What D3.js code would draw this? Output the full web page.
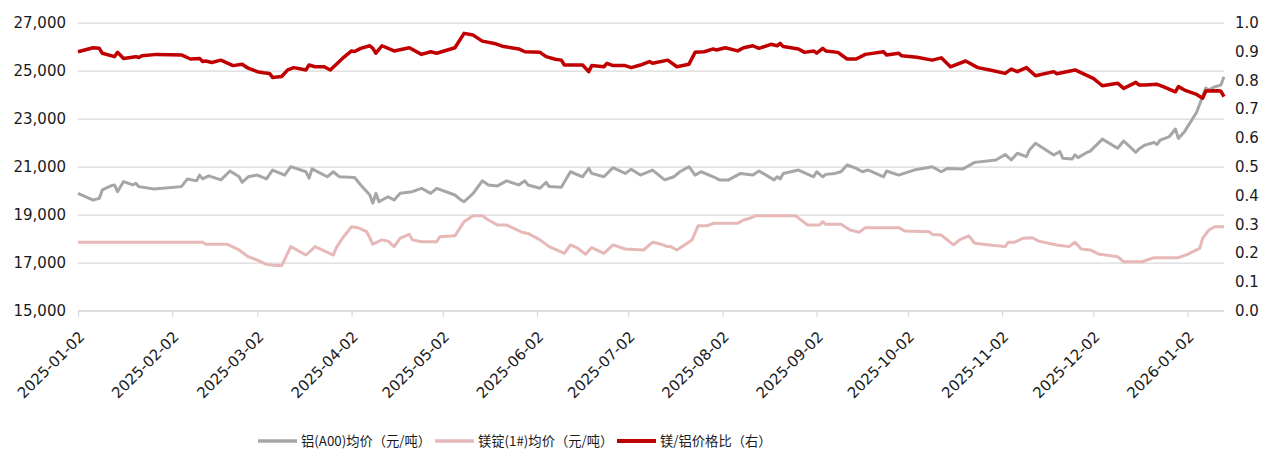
<!DOCTYPE html>
<html>
<head>
<meta charset="utf-8">
<script src="https://cdn.jsdelivr.net/npm/d3@7"></script>
<style>
    body { margin: 0; background: #ffffff; }
    svg { display: block; }
</style>
</head>
<body>
<div id="chart"></div>
<script>
// tick labels
var xTickLabels = ["2025-01-02", "2025-02-02", "2025-03-02", "2025-04-02", "2025-05-02", "2025-06-02",
    "2025-07-02", "2025-08-02", "2025-09-02", "2025-10-02", "2025-11-02", "2025-12-02", "2026-01-02"]
var leftTicks = [15000, 17000, 19000, 21000, 23000, 25000, 27000]
var rightTicks = [0, 0.1, 0.2, 0.3, 0.4, 0.5, 0.6, 0.7, 0.8, 0.9, 1.0]
var seriesNames = ["铝(A00)均价（元/吨）", "镁锭(1#)均价（元/吨）", "镁/铝价格比（右）"]

// 铝(A00)均价
var alDates = [
    "2025-01-02","2025-01-07","2025-01-09","2025-01-10","2025-01-13","2025-01-14","2025-01-15","2025-01-17","2025-01-20","2025-01-21","2025-01-22","2025-01-27",
    "2025-02-05","2025-02-07","2025-02-10","2025-02-11","2025-02-12","2025-02-14","2025-02-18","2025-02-21","2025-02-24","2025-02-25","2025-02-27",
    "2025-03-02","2025-03-05","2025-03-07","2025-03-11","2025-03-13","2025-03-18","2025-03-19","2025-03-20","2025-03-25","2025-03-27","2025-03-29",
    "2025-04-03","2025-04-05","2025-04-08","2025-04-09","2025-04-10","2025-04-11","2025-04-14","2025-04-16","2025-04-18","2025-04-22","2025-04-25","2025-04-28","2025-04-30",
    "2025-05-06","2025-05-08","2025-05-09","2025-05-12","2025-05-15","2025-05-17","2025-05-20","2025-05-23","2025-05-27","2025-05-29","2025-05-30",
    "2025-06-03","2025-06-05","2025-06-06","2025-06-10","2025-06-13","2025-06-17","2025-06-19","2025-06-20","2025-06-24","2025-06-27",
    "2025-07-01","2025-07-03","2025-07-06","2025-07-10","2025-07-14","2025-07-17","2025-07-19","2025-07-22","2025-07-24","2025-07-26","2025-07-30",
    "2025-08-01","2025-08-04","2025-08-08","2025-08-12","2025-08-14","2025-08-19","2025-08-20","2025-08-21","2025-08-22","2025-08-27",
    "2025-09-01","2025-09-02","2025-09-04","2025-09-05","2025-09-08","2025-09-10","2025-09-12","2025-09-15","2025-09-17","2025-09-19","2025-09-24","2025-09-25","2025-09-29",
    "2025-10-04","2025-10-10","2025-10-13","2025-10-15","2025-10-20","2025-10-24","2025-10-31",
    "2025-11-03","2025-11-05","2025-11-07","2025-11-10","2025-11-11","2025-11-13","2025-11-19","2025-11-21","2025-11-22","2025-11-25","2025-11-26","2025-11-27","2025-11-30",
    "2025-12-01","2025-12-05","2025-12-10","2025-12-12","2025-12-16","2025-12-17","2025-12-19","2025-12-22","2025-12-23","2025-12-24","2025-12-27","2025-12-29","2025-12-30",
    "2026-01-01","2026-01-05","2026-01-07","2026-01-08","2026-01-09","2026-01-11","2026-01-13","2026-01-14"]
var alPrice = [
    19890,19610,19680,20030,20210,20240,19960,20380,20240,20310,20170,20070,
    20170,20490,20410,20650,20490,20620,20450,20820,20580,20350,20580,
    20650,20490,20860,20650,21000,20790,20520,20910,20580,20790,20580,
    20550,20240,19820,19480,19890,19540,19750,19610,19890,19960,20100,19890,20100,
    19820,19610,19540,19890,20410,20240,20200,20410,20240,20410,20240,
    20100,20350,20170,20140,20790,20580,20930,20720,20580,20960,
    20720,20890,20650,20860,20450,20580,20790,21000,20650,20790,20580,
    20450,20450,20720,20650,20820,20450,20580,20490,20720,20860,
    20580,20790,20580,20680,20720,20790,21070,20930,20790,20860,20580,20820,20650,
    20860,21000,20790,20930,20900,21180,21280,
    21510,21280,21560,21420,21700,21980,21490,21630,21350,21320,21490,21380,21600,
    21650,22150,21770,22070,21600,21740,21900,22010,21930,22110,22250,22570,22180,
    22460,23270,23950,24280,24200,24330,24400,24750]

// 镁锭(1#)均价
var mgDates = [
    "2025-01-02",
    "2025-02-12","2025-02-13","2025-02-20","2025-02-24","2025-02-27",
    "2025-03-02","2025-03-05","2025-03-08","2025-03-10","2025-03-13","2025-03-18","2025-03-21","2025-03-27","2025-03-28","2025-03-30",
    "2025-04-02","2025-04-04","2025-04-07","2025-04-09","2025-04-12","2025-04-14","2025-04-16","2025-04-18","2025-04-21","2025-04-22","2025-04-25","2025-04-30",
    "2025-05-01","2025-05-06","2025-05-09","2025-05-12","2025-05-15","2025-05-17","2025-05-20","2025-05-23","2025-05-28","2025-05-30",
    "2025-06-03","2025-06-06","2025-06-11","2025-06-13","2025-06-15","2025-06-18","2025-06-20","2025-06-24","2025-06-27",
    "2025-07-01","2025-07-07","2025-07-10","2025-07-12","2025-07-15","2025-07-16","2025-07-18","2025-07-23","2025-07-25","2025-07-28","2025-07-30",
    "2025-08-07","2025-08-09","2025-08-11","2025-08-13","2025-08-26","2025-08-30",
    "2025-09-03","2025-09-04","2025-09-05","2025-09-10","2025-09-13","2025-09-16","2025-09-18","2025-09-29",
    "2025-10-01","2025-10-09","2025-10-10","2025-10-13","2025-10-17","2025-10-19","2025-10-22","2025-10-24","2025-10-29",
    "2025-11-03","2025-11-04","2025-11-06","2025-11-09","2025-11-12","2025-11-14","2025-11-20","2025-11-24","2025-11-26","2025-11-28",
    "2025-12-01","2025-12-04","2025-12-06","2025-12-10","2025-12-12","2025-12-18","2025-12-22","2025-12-30",
    "2026-01-02","2026-01-06","2026-01-07","2026-01-09","2026-01-11","2026-01-14"]
var mgPrice = [
    17850,
    17850,17770,17770,17530,17250,
    17110,16930,16880,16880,17670,17320,17670,17320,17630,18020,
    18500,18460,18290,17770,17950,17900,17670,18020,18180,17950,17870,17870,
    18080,18120,18710,18960,18960,18780,18570,18570,18270,18220,
    17950,17670,17390,17740,17630,17350,17630,17390,17740,
    17570,17530,17850,17800,17670,17670,17530,17950,18540,18540,18640,
    18640,18780,18850,18960,18960,18570,
    18570,18710,18600,18600,18360,18270,18460,18460,
    18320,18290,18180,18150,17740,17950,18120,17810,17740,
    17670,17850,17850,18020,18040,17900,17740,17670,17850,17570,
    17530,17350,17320,17250,17040,17040,17210,17210,
    17350,17600,18020,18360,18500,18500]

// 镁/铝价格比（右）
var ratioDates = [
    "2025-01-02","2025-01-07","2025-01-09","2025-01-10","2025-01-14","2025-01-15","2025-01-17","2025-01-21","2025-01-22","2025-01-23","2025-01-28",
    "2025-02-05","2025-02-08","2025-02-11","2025-02-12","2025-02-13","2025-02-15","2025-02-18","2025-02-22","2025-02-25","2025-02-27",
    "2025-03-02","2025-03-04","2025-03-06","2025-03-07","2025-03-10","2025-03-12","2025-03-14","2025-03-18","2025-03-19","2025-03-21","2025-03-24","2025-03-26","2025-03-30",
    "2025-04-02","2025-04-03","2025-04-05","2025-04-08","2025-04-09","2025-04-10","2025-04-12","2025-04-16","2025-04-21","2025-04-25","2025-04-28","2025-04-30",
    "2025-05-06","2025-05-09","2025-05-12","2025-05-15","2025-05-19","2025-05-22","2025-05-27","2025-05-29",
    "2025-06-03","2025-06-05","2025-06-08","2025-06-10","2025-06-11","2025-06-17","2025-06-19","2025-06-20","2025-06-24","2025-06-25","2025-06-27",
    "2025-07-01","2025-07-03","2025-07-06","2025-07-09","2025-07-10","2025-07-15","2025-07-18","2025-07-22","2025-07-24","2025-07-27","2025-07-30","2025-07-31",
    "2025-08-03","2025-08-07","2025-08-09","2025-08-12","2025-08-14","2025-08-18","2025-08-20","2025-08-21","2025-08-22","2025-08-27","2025-08-29",
    "2025-09-01","2025-09-02","2025-09-04","2025-09-05","2025-09-09","2025-09-12","2025-09-15","2025-09-18","2025-09-24","2025-09-25","2025-09-29","2025-09-30",
    "2025-10-05","2025-10-10","2025-10-13","2025-10-16","2025-10-21","2025-10-25","2025-10-29",
    "2025-11-03","2025-11-05","2025-11-07","2025-11-10","2025-11-13","2025-11-19","2025-11-20","2025-11-26",
    "2025-12-02","2025-12-05","2025-12-10","2025-12-12","2025-12-16","2025-12-17","2025-12-19","2025-12-23","2025-12-25","2025-12-29","2025-12-30",
    "2026-01-01","2026-01-05","2026-01-07","2026-01-08","2026-01-12","2026-01-13","2026-01-14"]
var ratioValues = [
    0.899,0.913,0.911,0.894,0.882,0.897,0.876,0.882,0.879,0.885,0.890,
    0.888,0.874,0.876,0.865,0.867,0.862,0.870,0.851,0.856,0.842,
    0.830,0.826,0.824,0.810,0.813,0.836,0.844,0.836,0.853,0.847,0.847,0.836,0.876,
    0.902,0.900,0.911,0.920,0.911,0.894,0.920,0.902,0.913,0.890,0.899,0.894,
    0.913,0.963,0.957,0.936,0.928,0.917,0.909,0.899,
    0.897,0.882,0.873,0.870,0.853,0.853,0.830,0.851,0.847,0.859,0.851,
    0.851,0.844,0.853,0.865,0.859,0.870,0.847,0.856,0.897,0.899,0.909,0.905,
    0.913,0.902,0.913,0.920,0.911,0.925,0.920,0.928,0.917,0.909,0.897,
    0.902,0.894,0.911,0.902,0.897,0.874,0.874,0.890,0.899,0.888,0.894,0.885,
    0.880,0.870,0.878,0.847,0.867,0.844,0.836,
    0.824,0.839,0.830,0.844,0.816,0.830,0.823,0.836,
    0.807,0.781,0.790,0.772,0.793,0.784,0.784,0.786,0.778,0.760,0.778,
    0.766,0.751,0.738,0.763,0.764,0.762,0.743]

var colors = ["#A6A6A6", "#E6B8B7", "#C00000"]
var tickFont = "'DejaVu Sans', sans-serif"

var parse = d3.utcParse("%Y-%m-%d")
function toPoints(dates, values) {
    return dates.map(function(d, i) { return { date: parse(d), value: values[i] } })
}

var plotLeft = 78, plotRight = 1224, plotTop = 22.7, plotBottom = 310.7

var svg = d3.select("#chart")
    .append("svg")
        .attr("width", 1281)
        .attr("height", 458)

var x = d3.scaleUtc()
    .domain([parse("2025-01-02"), parse("2026-01-14")])
    .range([plotLeft, plotRight])

var yLeft = d3.scaleLinear()
    .domain([15000, 27000])
    .range([plotBottom, plotTop])

var yRight = d3.scaleLinear()
    .domain([0, 1])
    .range([plotBottom, plotTop])

// left axis + gridlines
var gLeft = svg.append("g")
    .attr("transform", "translate(" + plotLeft + ",0)")
    .call(d3.axisLeft(yLeft)
        .tickValues(leftTicks)
        .tickSize(-(plotRight - plotLeft))
        .tickPadding(12)
        .tickFormat(d3.format(",")))
gLeft.select(".domain").remove()
gLeft.selectAll(".tick line")
    .attr("stroke", "#D9D9D9")
    .attr("stroke-width", 1.3)
gLeft.selectAll(".tick text")
    .attr("fill", "#1a1a1a")
    .style("font-family", tickFont)
    .style("font-size", "15px")

// right axis
var gRight = svg.append("g")
    .attr("transform", "translate(" + plotRight + ",0)")
    .call(d3.axisRight(yRight)
        .tickValues(rightTicks)
        .tickSize(0)
        .tickPadding(11)
        .tickFormat(d3.format(".1f")))
gRight.select(".domain").remove()
gRight.selectAll(".tick text")
    .attr("fill", "#1a1a1a")
    .style("font-family", tickFont)
    .style("font-size", "15px")

// bottom axis
var gBottom = svg.append("g")
    .attr("transform", "translate(0," + plotBottom + ")")
    .call(d3.axisBottom(x)
        .tickValues(xTickLabels.map(parse))
        .tickSize(6)
        .tickSizeOuter(0)
        .tickFormat(d3.utcFormat("%Y-%m-%d")))
gBottom.select(".domain")
    .attr("stroke", "#D9D9D9")
    .attr("stroke-width", 1.5)
    .attr("d", "M" + plotLeft + ",0H" + plotRight)
gBottom.selectAll(".tick line")
    .attr("stroke", "#D9D9D9")
    .attr("stroke-width", 1.3)
gBottom.selectAll(".tick text")
    .attr("fill", "#1a1a1a")
    .style("font-family", tickFont)
    .style("font-size", "15px")
    .attr("text-anchor", "end")
    .attr("y", 0)
    .attr("dy", 0)
    .attr("transform", "translate(7,27) rotate(-45)")

// lines
var lineLeft = d3.line()
    .x(function(d) { return x(d.date) })
    .y(function(d) { return yLeft(d.value) })
var lineRight = d3.line()
    .x(function(d) { return x(d.date) })
    .y(function(d) { return yRight(d.value) })

svg.append("path")
    .datum(toPoints(alDates, alPrice))
    .attr("fill", "none")
    .attr("stroke", colors[0])
    .attr("stroke-width", 3)
    .attr("stroke-linejoin", "round")
    .attr("d", lineLeft)

svg.append("path")
    .datum(toPoints(mgDates, mgPrice))
    .attr("fill", "none")
    .attr("stroke", colors[1])
    .attr("stroke-width", 3)
    .attr("stroke-linejoin", "round")
    .attr("d", lineLeft)

svg.append("path")
    .datum(toPoints(ratioDates, ratioValues))
    .attr("fill", "none")
    .attr("stroke", colors[2])
    .attr("stroke-width", 3.5)
    .attr("stroke-linejoin", "round")
    .attr("d", lineRight)

// legend
var legendX = [258, 435, 617]
var legend = svg.append("g")
    .attr("transform", "translate(0,441)")
seriesNames.forEach(function(name, i) {
    legend.append("line")
        .attr("x1", legendX[i])
        .attr("x2", legendX[i] + 39)
        .attr("y1", 0)
        .attr("y2", 0)
        .attr("stroke", colors[i])
        .attr("stroke-width", i == 2 ? 4 : 3.5)
    legend.append("text")
        .attr("x", legendX[i] + 43)
        .attr("y", 0)
        .attr("dy", "0.35em")
        .attr("fill", "#1a1a1a")
        .style("font-family", "'Noto Sans CJK SC', sans-serif")
        .style("font-size", "13.3px")
        .text(name)
})
</script>
</body>
</html>
